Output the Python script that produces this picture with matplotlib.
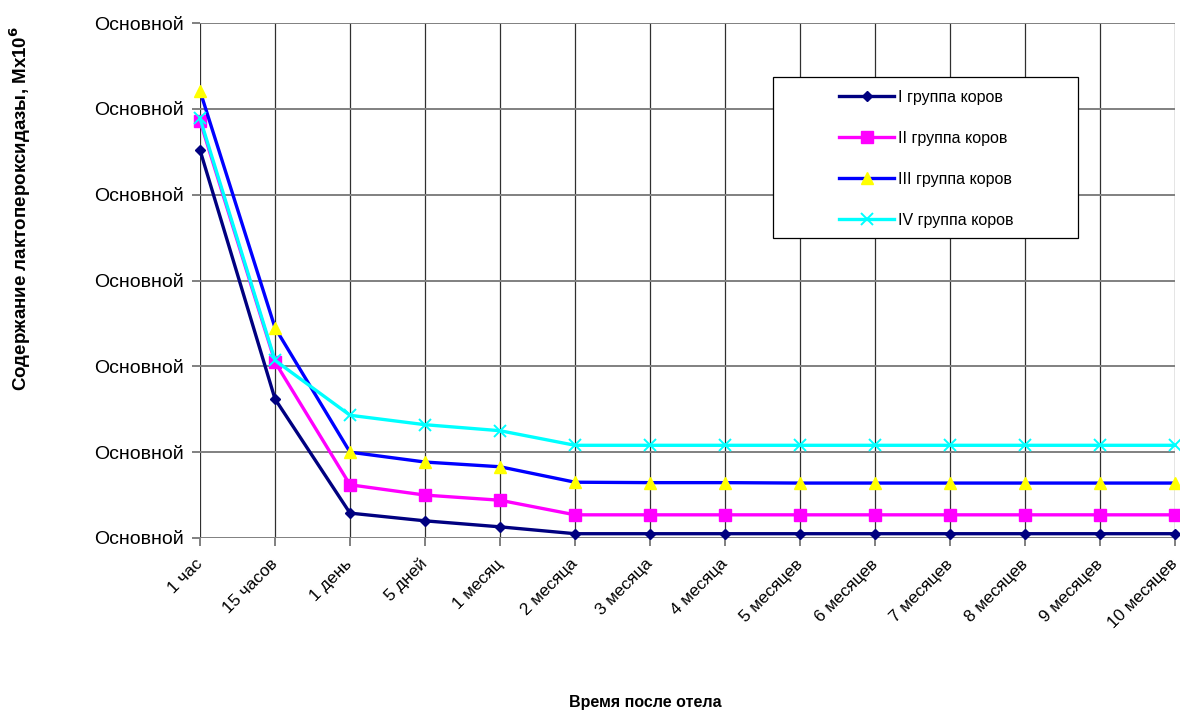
import matplotlib
matplotlib.use('Agg')
import matplotlib.pyplot as plt
from matplotlib.patches import Rectangle

plt.rcParams['font.family'] = ['Liberation Sans', 'DejaVu Sans']

# Data (y in grid-step units)
categories = ['1 час', '15 часов', '1 день', '5 дней', '1 месяц', '2 месяца',
              '3 месяца', '4 месяца', '5 месяцев', '6 месяцев', '7 месяцев',
              '8 месяцев', '9 месяцев', '10 месяцев']
group1 = [4.52, 1.62, 0.29, 0.20, 0.13, 0.05, 0.05, 0.05, 0.05, 0.05, 0.05, 0.05, 0.05, 0.05]
group2 = [4.86, 2.05, 0.62, 0.50, 0.44, 0.27, 0.27, 0.27, 0.27, 0.27, 0.27, 0.27, 0.27, 0.27]
group3 = [5.21, 2.45, 1.00, 0.885, 0.83, 0.65, 0.645, 0.645, 0.64, 0.64, 0.64, 0.64, 0.64, 0.64]
group4 = [4.89, 2.07, 1.43, 1.32, 1.25, 1.08, 1.08, 1.08, 1.08, 1.08, 1.08, 1.08, 1.08, 1.08]
labels = ['I группа коров', 'II группа коров', 'III группа коров', 'IV группа коров']
yticks = [0, 1, 2, 3, 4, 5, 6]
ytick_labels = ['Основной'] * 7

W, H = 1180, 711
fig = plt.figure(figsize=(W / 100, H / 100), dpi=100)
ax = fig.add_axes([200 / W, 1 - 538 / H, (1175 - 200) / W, (538 - 23) / H])

x = list(range(len(categories)))
ax.plot(x, group1, color='#000080', lw=2.4, marker='D', ms=5.5, mfc='#000080', mec='#000080',
        label=labels[0], zorder=5, clip_on=False)
ax.plot(x, group2, color='#ff00ff', lw=2.4, marker='s', ms=8, mfc='#ff00ff', mec='#ff00ff',
        label=labels[1], zorder=5, clip_on=False)
ax.plot(x, group3, color='#0000ff', lw=2.4, marker='^', ms=9, mfc='#ffff00', mec='#ffff00',
        label=labels[2], zorder=5, clip_on=False)
ax.plot(x, group4, color='#00ffff', lw=2.4, marker='x', ms=8, mew=1.4, mec='#00ffff',
        label=labels[3], zorder=5, clip_on=False)

ax.set_xlim(0, len(categories) - 1)
ax.set_ylim(0, 6)
ax.set_yticks(yticks)
ax.set_yticklabels(ytick_labels, fontsize=14)
ax.set_xticks(x)
ax.set_xticklabels(categories, fontsize=12.3, rotation=45, ha='right', va='center',
                   rotation_mode='anchor')

ax.grid(axis='y', color='#808080', lw=1.4)
ax.grid(axis='x', color='#303030', lw=0.9)
for s in ax.spines.values():
    s.set_visible(False)
ax.tick_params(axis='both', color='#808080', width=1.4, length=6)
ax.tick_params(axis='y', pad=5.5)
ax.tick_params(axis='x', pad=11)

# legend box
fig.patches.append(Rectangle((773 / W, 1 - 238 / H), (1078 - 773) / W, (238 - 77) / H,
                             transform=fig.transFigure, facecolor='white',
                             edgecolor='black', lw=0.9, zorder=10))
leg = fig.legend(loc='upper left', bbox_to_anchor=(839 / W, 1 - 90 / H), frameon=False,
                 fontsize=11.5, handlelength=3.45, handletextpad=0.25, labelspacing=1.62,
                 borderaxespad=0, borderpad=0)
leg.set_zorder(11)

fig.text(20 / W, 1 - 208 / H, 'Содержание лактопероксидазы, Мх10$^{\\mathbf{6}}$', rotation=90,
         ha='center', va='center', fontsize=13.5, fontweight='bold')
fig.text(645 / W, 1 - 703 / H, 'Время после отела', ha='center', va='center',
         fontsize=11.5, fontweight='bold')

fig.savefig('out.png', dpi=100)
